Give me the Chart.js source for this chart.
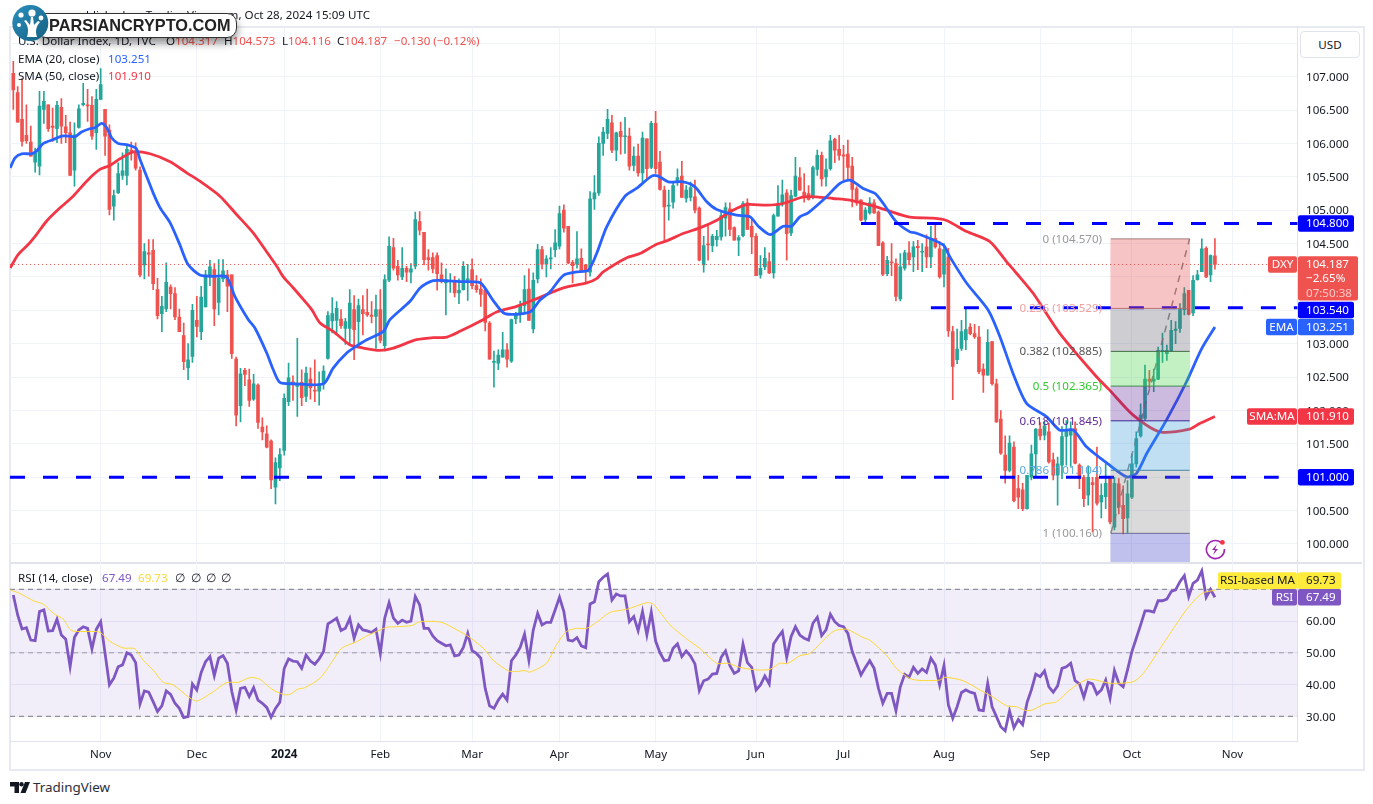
<!DOCTYPE html>
<html lang="en">
<head>
<meta charset="UTF-8">
<title>U.S. Dollar Index</title>
<script src="https://cdn.jsdelivr.net/npm/chart.js@4"></script>
<style>
    body { margin: 0; background: #fff; font-family: "Noto Sans", sans-serif; color: #131722; overflow: hidden; }
    canvas { position: absolute; left: 0; }
    #frame { position: absolute; left: 9px; top: 26px; width: 1352px; height: 741px; border: 2px solid #e8eaf1; }
    #divider { position: absolute; left: 10px; top: 562px; width: 1352px; height: 2px; background: #e0e3eb; }
    .t { position: absolute; font-size: 11.6px; line-height: 14px; white-space: nowrap; z-index: 3; }
    .usd { position: absolute; left: 1300px; top: 31px; width: 58px; height: 25px; border: 1px solid #e0e3eb; border-radius: 4px; font-size: 11.6px; line-height: 25px; padding-left: 0; text-align: center; z-index: 3; background: #fff; }
    #pill { position: absolute; left: 36px; top: 13px; width: 199px; height: 23px; background: #fff; border: 1px solid #333; border-radius: 10px; box-shadow: 0 5px 9px rgba(0,0,0,.45); z-index: 4; }
    #pill span { position: absolute; left: 12px; top: -1px; font: bold 16.3px/25px "Liberation Sans", sans-serif; color: #222; white-space: nowrap; }
    svg { position: absolute; z-index: 5; }
</style>
</head>
<body>
<div id="frame"></div>
<canvas id="priceChart" width="1373" height="563" style="top:0"></canvas>
<div id="divider"></div>
<canvas id="rsiChart" width="1373" height="207" style="top:562px"></canvas>

<span class="t" style="left:370px;top:8px;transform:translateX(-100%);">published on TradingView.com, Oct 28, 2024 15:09 UTC</span>
<span class="t" style="left:18px;top:34px">U.S. Dollar Index, 1D, TVC</span>
<span class="t" style="left:166px;top:34px">O<span style="color:#ef5350">104.317</span></span>
<span class="t" style="left:224px;top:34px">H<span style="color:#ef5350">104.573</span></span>
<span class="t" style="left:282px;top:34px">L<span style="color:#ef5350">104.116</span></span>
<span class="t" style="left:337px;top:34px">C<span style="color:#ef5350">104.187</span></span>
<span class="t" style="left:394px;top:34px;color:#ef5350">−0.130 (−0.12%)</span>
<span class="t" style="left:18px;top:52px">EMA (20, close)</span>
<span class="t" style="left:108px;top:52px;color:#2962ff">103.251</span>
<span class="t" style="left:18px;top:69px">SMA (50, close)</span>
<span class="t" style="left:108px;top:69px;color:#f23645">101.910</span>
<span class="t" style="left:18px;top:571px">RSI (14, close)</span>
<span class="t" style="left:102px;top:571px;color:#7e57c2">67.49</span>
<span class="t" style="left:138px;top:571px;color:#fdd835">69.73</span>
<span class="t" style="left:175px;top:571px">∅</span>
<span class="t" style="left:191px;top:571px">∅</span>
<span class="t" style="left:206px;top:571px">∅</span>
<span class="t" style="left:221px;top:571px">∅</span>
<div class="usd">USD</div>

<div id="pill"><span>PARSIANCRYPTO.COM</span></div>
<svg style="left:8px;top:0" width="46" height="46" viewBox="0 0 46 46">
    <defs><linearGradient id="lg" x1="0" y1="0" x2="1" y2="1"><stop offset="0" stop-color="#2b8fc0"/><stop offset="1" stop-color="#15607f"/></linearGradient></defs>
    <circle cx="22.3" cy="23" r="18" fill="url(#lg)"/>
    <path d="M19 37c2-7 1-12-3-16l2-1 4 5 1-8h2l1 8 4-4 2 1c-4 5-5 9-3 15z" fill="#fff"/>
    <circle cx="13" cy="15" r="2.6" fill="#fff"/><circle cx="24" cy="13" r="3.6" fill="#fff"/><circle cx="33" cy="18" r="2.4" fill="#fff"/><circle cx="11" cy="25" r="2" fill="#fff"/>
</svg>
<svg style="left:1204px;top:538px" width="24" height="22" viewBox="0 0 24 22">
    <path d="M17 4.5A9 9 0 1 0 20.4 11" fill="none" stroke="#9c27b0" stroke-width="1.6"/>
    <path d="M13 6l-5 6h3l-2 5 5-6h-3z" fill="#9c27b0"/>
    <circle cx="18.4" cy="4.4" r="2.4" fill="#f23645"/>
</svg>
<svg style="left:10px;top:782px" width="20" height="11" viewBox="0 0 20 11" fill="#131722">
    <path d="M0 0h9v11H4.5V4.5H0z"/><circle cx="11.5" cy="2.2" r="2.2"/><path d="M15 0h5l-4.5 11H10.5z"/>
</svg>
<span class="t" style="left:33px;top:780px;font-size:13.4px;color:#2a2e39">TradingView</span>

<script>
    // Daily candles, oldest first
    const opens = [
        107.05,106.76,106.36,106.12,106.02,105.72,105.66,106.51,106.58,106.26,
        106.22,106.54,106.25,106.16,105.6,106.24,106.58,106.58,106.57,106.16,
        106.66,106.51,106.2,105.06,105.26,105.52,105.52,105.9,105.88,105.6,
        104.18,104.36,104.4,103.81,103.45,103.52,103.85,103.75,103.4,103.12,
        102.64,102.81,103.35,103.18,103.55,104.0,104.11,103.62,103.97,104.03,
        104.03,102.77,102.07,102.6,102.46,102.17,102.38,101.75,101.65,101.54,
        100.85,101.14,101.4,102.13,102.43,102.36,102.42,102.21,102.47,102.3,
        102.29,102.4,102.78,103.34,103.35,103.37,103.23,103.23,103.51,103.33,
        103.51,103.47,103.43,103.41,103.51,102.97,103.95,104.44,104.16,104.0,
        104.13,104.07,104.16,104.83,104.67,104.29,104.29,104.32,104.03,103.91,
        103.93,103.95,103.76,103.81,103.95,104.11,103.87,103.82,103.8,103.31,
        102.72,102.71,102.8,102.91,102.74,103.37,103.44,103.57,103.82,103.22,
        103.97,104.41,104.19,104.27,104.41,104.46,105.0,104.76,104.22,104.19,
        104.28,104.18,104.07,105.17,105.26,106.0,106.15,106.31,105.9,106.18,
        106.1,106.11,105.67,105.81,105.56,106.07,105.64,106.3,105.72,105.3,
        105.06,105.12,105.42,105.51,105.18,105.19,105.2,105.03,104.18,104.49,
        104.47,104.56,104.6,104.88,105.02,104.74,104.55,104.62,105.11,104.76,
        104.61,104.03,104.15,104.23,104.06,104.91,105.11,105.26,104.66,105.21,
        105.49,105.27,105.25,105.19,105.61,105.82,105.5,105.62,106.06,105.91,
        105.83,105.84,105.66,105.32,105.15,104.86,104.96,105.11,104.97,104.51,
        104.05,104.22,104.2,103.67,104.13,104.36,104.3,104.46,104.37,104.45,
        104.3,104.58,104.42,104.04,104.3,103.18,102.76,102.93,103.06,103.25,
        103.15,103.1,102.62,102.53,103.03,102.4,101.87,101.33,101.1,101.45,
        100.83,100.81,100.53,101.0,101.35,101.72,101.63,101.68,101.26,101.03,
        101.18,101.61,101.63,101.73,101.18,101.0,100.73,100.92,101.0,100.63,
        100.71,101.0,100.25,100.9,100.58,100.39,100.7,101.2,101.62,101.88,
        102.47,102.44,102.47,102.88,102.85,102.89,103.2,103.23,103.51,103.8,
        103.46,103.96,104.08,104.43,104.03,104.317
    ];
    const highs = [
        107.23,106.85,106.97,106.58,106.26,105.93,106.78,106.78,106.58,106.53,
        106.63,106.67,106.42,106.32,106.31,106.58,106.9,106.81,106.7,106.81,
        107.12,106.51,106.28,105.3,105.71,105.86,105.98,106.02,106.01,105.65,
        104.5,104.56,104.56,103.98,103.71,104.21,103.88,103.84,103.52,103.31,
        103.0,103.59,103.71,103.86,104.1,104.25,104.2,104.26,104.26,104.1,
        104.03,102.8,102.63,102.63,102.62,102.54,102.4,101.89,101.77,101.56,
        101.29,101.43,102.25,102.71,102.52,103.08,102.61,102.65,102.64,102.76,
        102.58,102.67,103.48,103.69,103.63,103.51,103.38,103.81,103.72,103.67,
        103.72,103.82,103.63,103.73,103.81,104.03,104.6,104.58,104.25,104.44,
        104.16,104.2,104.97,104.98,104.67,104.41,104.36,104.36,104.21,104.12,
        104.05,104.01,103.97,104.23,104.19,104.27,104.02,103.97,103.85,103.33,
        102.89,102.91,103.17,103.0,103.37,103.47,103.64,104.02,104.12,104.06,
        104.49,104.46,104.32,104.44,104.71,105.06,105.08,104.76,104.25,104.68,
        104.42,104.19,105.28,105.52,106.1,106.24,106.51,106.42,106.17,106.32,
        106.39,106.23,105.95,105.99,106.17,106.07,106.33,106.48,105.88,105.36,
        105.3,105.41,105.62,105.73,105.37,105.42,105.45,105.05,104.61,104.77,
        104.64,104.7,104.97,105.11,105.11,104.75,104.62,105.13,105.17,104.87,
        104.65,104.32,104.44,104.36,104.94,105.37,105.45,105.31,105.3,105.79,
        105.64,105.55,105.37,105.66,105.9,105.87,105.77,106.12,106.08,106.12,
        105.97,106.05,105.79,105.35,105.16,105.04,105.19,105.16,104.99,104.53,
        104.31,104.5,104.27,104.35,104.4,104.53,104.53,104.55,104.5,104.63,
        104.76,104.78,104.53,104.5,104.43,103.26,103.22,103.35,103.53,103.3,
        103.29,103.26,102.7,103.21,103.03,102.47,102.0,101.62,101.62,101.53,
        101.03,100.91,101.03,101.48,101.73,101.82,101.83,101.81,101.36,101.3,
        101.76,101.85,101.83,101.83,101.2,101.03,101.17,101.0,101.45,100.9,
        101.2,101.0,101.0,100.98,100.87,100.95,101.35,101.68,102.1,102.68,
        102.6,102.62,102.95,103.16,102.98,103.35,103.33,103.6,103.84,103.8,
        104.02,104.1,104.57,104.45,104.33,104.573
    ];
    const lows = [
        106.51,106.32,105.96,106.0,105.81,105.57,105.53,106.3,106.18,106.03,
        106.01,106.0,106.01,105.52,105.36,106.23,106.56,106.33,106.06,105.91,
        106.66,105.82,104.93,104.85,105.25,105.46,105.38,105.75,105.6,104.0,
        103.97,104.01,103.81,103.37,103.18,103.48,103.52,103.36,103.18,102.61,
        102.46,102.72,103.1,103.06,103.55,103.87,103.27,103.43,103.93,103.48,
        102.78,101.77,101.83,102.37,102.06,102.15,101.73,101.56,101.44,100.83,
        100.6,100.95,101.33,102.07,102.15,101.91,102.07,102.13,102.17,102.13,
        102.08,102.32,102.77,103.16,103.15,103.23,102.99,102.98,102.76,102.98,
        103.13,103.41,103.31,102.93,103.01,102.89,103.93,104.1,103.95,103.96,
        103.93,103.91,104.12,104.63,104.18,104.1,104.06,103.8,103.91,103.43,
        103.77,103.7,103.6,103.8,103.65,103.82,103.77,103.56,103.19,102.77,
        102.35,102.61,102.8,102.65,102.72,103.3,103.32,103.45,103.35,103.16,
        103.91,104.12,104.0,104.12,104.3,104.42,104.67,104.2,103.91,104.13,
        104.07,103.92,104.01,105.01,105.22,105.82,106.07,105.86,105.74,105.84,
        105.85,105.6,105.59,105.51,105.42,105.47,105.62,105.55,105.3,104.55,
        104.85,105.03,105.37,105.19,105.12,105.14,104.96,104.24,104.07,104.25,
        104.38,104.46,104.55,104.61,104.62,104.55,104.32,104.6,104.71,104.35,
        104.02,103.98,104.11,104.05,103.98,104.91,105.06,104.25,104.62,105.2,
        105.3,105.12,105.15,105.17,105.52,105.36,105.36,105.6,105.71,105.75,
        105.42,105.47,105.05,105.07,104.84,104.79,104.94,104.95,104.47,104.02,
        104.02,104.02,103.64,103.64,104.1,104.18,104.08,104.11,104.08,104.14,
        104.14,104.43,103.98,103.85,103.11,102.16,102.7,102.9,102.91,103.13,
        103.08,102.55,102.27,102.53,102.38,101.82,101.34,100.91,101.08,100.63,
        100.53,100.5,100.52,100.96,101.0,101.56,101.56,101.21,100.96,100.58,
        100.98,101.18,101.16,101.2,100.83,100.56,100.58,100.18,100.58,100.39,
        100.53,100.3,100.21,100.45,100.15,100.16,100.68,101.15,101.6,101.85,
        102.34,102.28,102.46,102.72,102.75,102.88,103.0,103.17,103.43,103.43,
        103.42,103.95,104.08,103.99,103.93,104.116
    ];
    const closes = [
        106.8,106.32,106.03,106.04,105.81,105.85,106.56,106.63,106.22,106.24,
        106.57,106.26,106.16,105.52,106.13,106.52,106.6,106.56,106.11,106.66,
        106.88,106.11,105.01,105.22,105.55,105.59,105.91,105.88,105.63,104.03,
        104.38,104.34,103.9,103.42,103.56,103.92,103.75,103.4,103.18,102.73,
        102.76,103.5,103.26,103.7,104.03,104.15,103.52,103.98,104.09,103.86,
        102.85,101.93,102.55,102.54,102.15,102.4,101.82,101.68,101.45,100.96,
        101.22,101.34,102.18,102.49,102.4,102.39,102.19,102.56,102.34,102.29,
        102.4,102.59,103.42,103.45,103.53,103.27,103.33,103.61,103.21,103.57,
        103.45,103.43,103.41,103.51,103.05,103.96,104.46,104.13,104.03,104.13,
        104.07,104.12,104.86,104.7,104.26,104.26,104.12,104.05,103.93,103.96,
        103.95,103.76,103.8,104.16,103.97,103.87,103.81,103.74,103.32,102.77,
        102.73,102.83,102.91,102.77,103.36,103.44,103.57,103.81,103.35,103.95,
        104.41,104.19,104.27,104.28,104.51,104.95,104.73,104.21,104.17,104.27,
        104.08,104.08,105.17,105.26,106.0,106.17,106.36,105.9,106.16,106.1,
        106.11,105.66,105.81,105.56,106.08,105.62,106.3,105.62,105.31,105.05,
        105.07,105.37,105.49,105.19,105.3,105.34,105.0,104.25,104.47,104.48,
        104.61,104.61,104.92,105.04,104.71,104.55,104.59,105.1,104.71,104.6,
        104.02,104.13,104.28,104.06,104.92,105.1,105.23,104.65,105.22,105.51,
        105.3,105.21,105.16,105.64,105.82,105.47,105.61,106.04,105.9,105.82,
        105.81,105.64,105.31,105.11,104.85,105.0,105.11,104.96,104.47,104.04,
        104.25,104.21,103.71,104.15,104.36,104.26,104.45,104.44,104.38,104.3,
        104.58,104.45,104.0,104.41,103.19,102.66,102.92,103.18,103.21,103.15,
        103.1,102.58,102.53,103.02,102.4,101.83,101.36,101.1,101.51,100.65,
        100.7,100.53,101.03,101.35,101.72,101.62,101.77,101.23,101.03,101.2,
        101.61,101.7,101.72,101.21,100.98,100.68,101.0,100.89,100.61,100.73,
        100.91,100.33,100.91,100.55,100.38,100.75,101.2,101.58,101.93,102.47,
        102.44,102.47,102.9,102.9,102.9,103.2,103.22,103.52,103.75,103.44,
        103.95,104.03,104.42,104.0,104.32,104.187
    ];

    // Moving averages, read at the bends of each curve (day number, value)
    const emaDays = [-0.7,0.4,1.9,4.2,5.3,6.9,9.2,11.1,12.6,14.1,15.6,17.5,18.7,20.2,21.4,22.5,24,26.3,28.1,29,30.5,32,33.6,35.9,38.1,40,42.7,45.8,48.8,50.7,53.8,55.3,58,59.5,61,64.1,71,73.2,76.3,78.2,80.9,84.7,86.2,90.8,93.1,96.1,102.2,106.8,108.3,109.8,112.5,118.2,120.5,122.8,125.9,128.9,131.6,133.5,135.8,140,142.6,146.1,147.6,149.9,153.3,156,158.7,161,165.5,168.6,170.5,173.2,176.2,178.1,180,181.9,185.7,189.2,191.5,194.5,197.2,199.1,202.1,205.2,206.7,212.8,214.3,218.2,223.1,225.8,228.8,231.9,236.5,239.5,242.6,245.6,250.9,254.8,257,259.4,263.9,268.5,272,275];
    const emaVals = [105.635,105.785,105.845,105.845,105.885,106.0,106.06,106.11,106.11,106.1,106.17,106.22,106.235,106.3,106.235,106.085,106.0,105.975,105.925,105.76,105.51,105.26,105.035,104.81,104.485,104.185,104.03,104.01,104.0,103.71,103.36,103.235,102.86,102.61,102.42,102.4,102.4,102.635,102.86,102.95,103.06,103.185,103.36,103.635,103.835,103.945,103.93,103.915,103.8,103.65,103.45,103.475,103.65,103.775,104.025,104.075,104.1,104.35,104.75,105.21,105.325,105.51,105.51,105.425,105.425,105.35,105.125,105.01,104.925,104.9,104.76,104.635,104.76,104.76,104.9,104.96,105.175,105.4,105.45,105.325,105.25,105.1,104.825,104.675,104.655,104.48,104.305,103.905,103.505,103.105,102.555,102.105,101.905,101.705,101.705,101.455,101.18,101.005,101.055,101.355,101.855,102.43,102.93,103.251];
    const smaDays = [-0.7,1.1,3.4,5.3,7.6,10.7,13.7,16.8,19.8,22.1,24.4,27.5,31.3,35.9,39.7,42.7,47.3,51.1,54.9,57.9,60.3,61.8,64.1,66.4,68.3,70.2,73.2,77,80.1,83.9,87,92.3,96.1,99.2,102.2,107.5,110.6,115.2,119.8,125.9,131.2,133.5,135,140.3,143.4,147.2,149.5,153.3,157.1,161,164.7,167.8,172.4,176.2,180.8,183.8,187.6,191.5,196.1,199.9,205.2,210.5,213.6,218.2,223.5,227.3,229.6,233.4,239.5,247.9,250.9,256.3,262.4,269.2,271.5,275];
    const smaVals = [104.135,104.335,104.485,104.635,104.835,105.035,105.21,105.435,105.61,105.67,105.77,105.875,105.845,105.725,105.56,105.435,105.21,104.935,104.66,104.385,104.16,104.0,103.835,103.66,103.51,103.31,103.185,102.985,102.935,102.9,102.935,103.06,103.09,103.1,103.185,103.36,103.475,103.56,103.675,103.835,103.91,103.975,104.075,104.285,104.35,104.49,104.54,104.65,104.735,104.85,105.0,105.085,105.075,105.1,105.2,105.2,105.175,105.15,105.075,105.0,104.895,104.88,104.845,104.68,104.53,104.23,104.055,103.755,103.155,102.505,102.305,101.93,101.68,101.72,101.805,101.91];

    // RSI, one value per candle
    const rsiVals = [
        68.2,61.9,57.5,57.9,54.0,53.8,63.0,63.5,56.9,57.0,
        60.6,55.6,54.3,45.6,54.9,57.2,58.2,57.7,51.2,57.4,
        59.8,49.8,39.9,42.0,45.6,46.2,50.0,49.3,46.9,33.9,
        38.0,37.6,34.6,31.5,33.3,38.0,36.9,34.1,32.5,29.6,
        29.9,40.2,38.3,43.8,47.2,48.8,42.8,48.3,49.1,46.7,
        37.8,32.0,38.8,39.1,36.2,39.0,35.1,34.1,32.8,29.7,
        32.5,34.4,45.1,48.1,47.4,47.2,45.1,49.3,47.4,46.4,
        48.1,50.4,59.1,60.0,60.9,57.0,57.7,60.8,54.6,58.8,
        57.2,56.9,56.4,57.4,49.8,60.9,65.8,60.9,59.3,60.3,
        59.6,60.0,67.7,65.1,57.7,57.7,55.3,53.8,53.0,52.2,
        52.5,49.0,49.3,51.7,56.1,50.7,49.8,48.3,38.8,33.3,
        32.5,35.1,37.0,35.1,47.5,49.3,51.7,55.9,47.7,57.2,
        62.4,58.8,59.6,59.6,63.5,67.5,63.0,54.0,53.7,54.8,
        52.2,51.6,65.4,66.1,72.4,73.8,74.8,66.6,68.5,67.9,
        67.9,59.8,61.4,57.0,63.0,55.6,62.8,53.7,50.0,47.5,
        47.7,51.4,52.8,48.8,50.6,49.0,46.5,38.1,41.2,41.7,
        43.3,43.5,48.6,50.6,45.9,43.5,44.3,52.7,46.9,45.4,
        38.3,39.9,42.7,40.2,52.8,54.9,56.7,48.6,55.1,58.2,
        55.6,54.6,54.0,59.3,61.2,55.4,57.2,62.1,59.8,58.6,
        58.2,56.1,50.4,46.7,43.0,45.4,47.5,45.1,38.8,34.1,
        37.2,37.2,31.8,39.3,43.2,42.3,45.4,43.5,44.9,43.8,
        48.3,46.2,39.9,46.0,33.6,29.4,33.0,37.5,38.3,37.6,
        37.2,32.0,31.8,40.4,33.0,29.9,26.7,25.4,31.7,26.4,
        29.0,27.4,34.3,38.3,43.3,42.5,44.3,39.3,37.6,39.6,
        45.1,45.6,46.7,41.2,40.2,36.0,40.7,40.2,37.0,38.3,
        41.4,35.7,44.4,40.4,39.3,44.6,50.4,54.6,58.8,63.2,
        63.2,62.8,66.4,66.4,66.9,69.3,69.8,72.4,74.3,67.7,
        71.9,72.9,75.8,67.5,70.0,67.49
    ];
    const rsiMaDays = [-0.7,1.5,4.6,6.9,9.2,11.4,13.3,16,19.8,22.1,25.2,27.8,29.7,32,34.3,36.6,40,42,45.8,48.8,51.5,54.2,56.4,59.1,61.8,63.3,65.2,66.7,70.2,73.2,75.1,78.6,80.9,85.4,87.7,91.2,93.1,98,102.2,103.7,107.6,109.8,113.3,115.2,117.1,118.2,122,124.3,126.6,128.9,131.2,133.5,136.5,140.4,145,146.5,150.3,154.1,157.1,161,163.6,166.3,170.1,173.2,175.4,177.3,180,182.3,187.6,190.7,194.5,196,199.8,202.1,205.2,207.5,212,213.2,217.4,221.2,224.3,227.3,229.6,231.5,233,236.1,238.8,241.8,246,251,256.3,258.6,263.2,268.5,272,275];
    const rsiMaVals = [69.8,68.7,66.4,65.3,62.4,60.6,57.0,56.7,56.5,53.6,51.5,51.3,47.7,44.6,40.7,39.9,36.2,34.8,37.8,40.6,40.7,42.2,41.7,38.6,36.9,36.9,38.6,39.0,42.0,47.7,51.4,53.5,55.3,58.0,58.2,58.6,59.8,59.6,56.7,55.6,51.4,47.7,44.3,44.1,44.4,43.9,46.7,52.5,56.7,57.7,57.7,59.6,62.7,63.7,65.8,65.3,58.8,54.4,51.4,46.7,46.7,45.4,44.6,44.8,46.7,46.7,49.1,49.8,56.7,57.4,54.8,54.0,49.3,45.1,41.9,41.3,41.4,42.3,41.2,38.3,36.0,33.3,33.0,31.9,31.9,33.9,34.6,38.3,41.7,40.4,40.9,43.5,52.9,63.6,68.7,69.73];

    // Month labels and the candle they fall on
    const monthDays = [20,42,62,84,105,125,147,170,190,213,235,256,279];
    const monthLabels = ['Nov','Dec','2024','Feb','Mar','Apr','May','Jun','Jul','Aug','Sep','Oct','Nov'];

    // Drawn levels
    const fibRatios = ['0','0.236','0.382','0.5','0.618','0.786','1'];
    const fibPrices = [104.57,103.529,102.885,102.365,101.845,101.104,100.16];
    const fibBelow = 99.12;
    const fibDays = [251.2,269.2];
    const supportLevels = [104.8,103.54,101.0];
    const supportStarts = [194,210,-0.76];
    const supportEnds = [294,294,289.6];

    const lastClose = 104.187;
    const xMin = -0.755, xMax = 293.9;
    const UP = '#26a69a', DOWN = '#ef5350';
    const FONT = '"Noto Sans", sans-serif';
    const fibFills = ['rgba(225,60,60,.3)','rgba(90,90,105,.3)','rgba(60,210,60,.3)','rgba(90,30,150,.3)','rgba(50,150,215,.3)','rgba(120,120,120,.27)','rgba(50,50,200,.3)'];
    const fibLines = ['#999','rgba(230,130,130,.9)','#444','#4caf50','#4a1c8c','#3f8fb0','#888'];
    const fibText = ['#9a9a9a','#f0a0a0','#555','#2ecc2e','#5e2b97','#5aa9e0','#9a9a9a'];

    const candleColors = opens.map((o, i) => closes[i] >= o ? UP : DOWN);

    function line(days, vals, extra) {
        return Object.assign({
            type: 'line', pointRadius: 0, borderWidth: 1, fill: false,
            data: days.map((d, i) => ({x: d, y: vals[i]}))
        }, extra);
    }

    function tag(ctx, x0, x1, y0, y1, bg, text, fg, textX) {
        ctx.fillStyle = bg;
        ctx.beginPath();
        ctx.roundRect(x0, y0, x1 - x0, y1 - y0, 2);
        ctx.fill();
        ctx.fillStyle = fg;
        ctx.font = '11.6px ' + FONT;
        ctx.textBaseline = 'middle';
        ctx.textAlign = textX ? 'left' : 'center';
        ctx.fillText(text, textX || (x0 + x1) / 2, (y0 + y1) / 2 + 0.5);
    }

    const priceOverlay = {
        id: 'priceOverlay',
        afterDraw(chart) {
            const ctx = chart.ctx, y = chart.scales.y;
            ctx.save();
            // fib labels
            ctx.font = '11.6px ' + FONT;
            ctx.textAlign = 'right';
            ctx.textBaseline = 'middle';
            fibRatios.forEach((r, i) => {
                ctx.fillStyle = fibText[i];
                ctx.fillText(r + ' (' + fibPrices[i].toFixed(3) + ')', 1102, y.getPixelForValue(fibPrices[i]) + 0.5);
            });
            // axis tags
            const c = v => y.getPixelForValue(v);
            const ax = 1298, vx = 1306;
            tag(ctx, ax, 1354, c(104.8) - 8.3, c(104.8) + 8.3, '#0000ff', '104.800', '#fff', vx);
            tag(ctx, 1268, ax - 1, c(lastClose) - 8.3, c(lastClose) + 8.3, DOWN, 'DXY', '#fff');
            ctx.fillStyle = DOWN;
            ctx.beginPath();
            ctx.roundRect(ax, c(lastClose) - 8.3, 60, 44.3, 2);
            ctx.fill();
            ctx.fillStyle = '#fff';
            ctx.font = '11.6px ' + FONT;
            ctx.textAlign = 'left';
            ctx.fillText('104.187', vx, c(lastClose) + 0.5);
            ctx.fillText('−2.65%', vx, c(lastClose) + 14.5);
            ctx.fillStyle = '#ffc9c7';
            ctx.fillText('07:50:38', vx, c(lastClose) + 29);
            tag(ctx, ax, 1354, c(103.54) - 6, c(103.54) + 10.5, '#0000ff', '103.540', '#fff', vx);
            tag(ctx, 1266, ax - 1, c(103.251) - 8.3, c(103.251) + 8.3, '#2962ff', 'EMA', '#fff');
            tag(ctx, ax, 1354, c(103.251) - 8.3, c(103.251) + 8.3, '#2962ff', '103.251', '#fff', vx);
            tag(ctx, 1247, ax - 1, c(101.91) - 8.3, c(101.91) + 8.3, '#f23645', 'SMA:MA', '#fff');
            tag(ctx, ax, 1354, c(101.91) - 8.3, c(101.91) + 8.3, '#f23645', '101.910', '#fff', vx);
            tag(ctx, ax, 1354, c(101) - 8.3, c(101) + 8.3, '#0000ff', '101.000', '#fff', vx);
            ctx.restore();
        }
    };

    const rsiOverlay = {
        id: 'rsiOverlay',
        afterDraw(chart) {
            const ctx = chart.ctx, y = chart.scales.y;
            ctx.save();
            const ma = y.getPixelForValue(69.73), r = y.getPixelForValue(67.49);
            const ax = 1298, vx = 1306;
            tag(ctx, 1218, ax - 1, ma - 18, ma - 1, '#ffeb3b', 'RSI-based MA', '#131722');
            tag(ctx, ax, 1341, ma - 18, ma - 1, '#ffeb3b', '69.73', '#131722', vx);
            tag(ctx, 1272, ax - 1, r - 8.3, r + 8.3, '#7e57c2', 'RSI', '#fff');
            tag(ctx, ax, 1341, r - 8.3, r + 8.3, '#7e57c2', '67.49', '#fff', vx);
            ctx.restore();
        }
    };

    const xGrid = {color: '#f0f3fa', drawTicks: false};
    function setMonthTicks(scale) {
        scale.ticks = monthDays.map(d => ({value: d}));
    }
    // keep the plot area where the pane is: no label margins from the axes
    function fitY(scale) {
        scale.width = 65.5;
        scale.paddingTop = 0;
        scale.paddingBottom = 0;
    }
    function fitX(height) {
        return scale => {
            scale.height = height;
            scale.paddingLeft = 0;
            scale.paddingRight = 0;
        };
    }

    // Price pane
    const fibBandData = fibPrices.map((p, i) => ({
        x: (fibDays[0] + fibDays[1]) / 2,
        y: [i < fibPrices.length - 1 ? fibPrices[i + 1] : fibBelow, p]
    }));
    const priceDatasets = [
        {type: 'bar', grouped: false, order: 6, barThickness: 1, minBarLength: 1,
            backgroundColor: candleColors,
            data: highs.map((h, i) => ({x: i, y: [lows[i], h]}))},
        {type: 'bar', grouped: false, order: 5, barThickness: 3, minBarLength: 1,
            backgroundColor: candleColors,
            data: closes.map((c, i) => ({x: i, y: [opens[i], c]}))},
        line(emaDays, emaVals, {order: 3, borderColor: '#2962ff', borderWidth: 2.8, tension: 0.25}),
        line(smaDays, smaVals, {order: 3, borderColor: '#f23645', borderWidth: 2.8, tension: 0.25}),
        line([xMin, xMax], [lastClose, lastClose], {order: 4, borderColor: '#ef5350', borderDash: [1, 3]}),
        {type: 'bar', grouped: false, order: 1, barThickness: 79,
            backgroundColor: fibFills, data: fibBandData},
        line(fibDays, [fibPrices[6], fibPrices[0]], {order: 1, borderColor: 'rgba(120,120,120,.85)', borderWidth: 1.5, borderDash: [7, 6]})
    ];
    supportLevels.forEach((lv, i) => {
        priceDatasets.push(line([supportStarts[i], supportEnds[i]], [lv, lv], {order: 2, borderColor: '#0000ff', borderWidth: 3, borderDash: [15, 18]}));
    });
    fibPrices.forEach((p, i) => {
        priceDatasets.push(line(fibDays, [p, p], {order: 1, borderColor: fibLines[i], borderWidth: 1}));
    });

    new Chart(document.getElementById('priceChart').getContext('2d'), {
        type: 'bar',
        data: {datasets: priceDatasets},
        plugins: [priceOverlay],
        options: {
            responsive: false, animation: false, devicePixelRatio: 1,
            layout: {padding: {left: 10, right: 10, top: 27, bottom: 1}},
            plugins: {legend: {display: false}, tooltip: {enabled: false}},
            scales: {
                x: {
                    type: 'linear', min: xMin, max: xMax, offset: false,
                    grid: Object.assign({offset: false}, xGrid),
                    border: {display: false},
                    afterBuildTicks: setMonthTicks,
                    afterFit: fitX(0),
                    ticks: {display: false}
                },
                y: {
                    position: 'right', min: 99.73, max: 107.744,
                    afterFit: fitY,
                    grid: {color: '#f0f3fa', drawTicks: false},
                    border: {display: true, color: '#e0e3eb'},
                    ticks: {
                        stepSize: 0.5, includeBounds: false, padding: 8.5, autoSkip: false, labelOffset: 1,
                        color: '#131722', font: {family: FONT, size: 11.6},
                        callback: v => v.toFixed(3)
                    }
                }
            }
        }
    });

    // RSI pane
    new Chart(document.getElementById('rsiChart').getContext('2d'), {
        type: 'line',
        data: {datasets: [
            line([xMin, xMax], [70, 70], {order: 8, borderWidth: 0, backgroundColor: 'rgba(126,87,194,.1)', fill: {value: 30}}),
            line([xMin, xMax], [70, 70], {order: 7, borderColor: '#787b86', borderDash: [5, 4]}),
            line([xMin, xMax], [50, 50], {order: 7, borderColor: 'rgba(120,123,134,.7)', borderDash: [5, 4]}),
            line([xMin, xMax], [30, 30], {order: 7, borderColor: '#787b86', borderDash: [5, 4]}),
            line(rsiVals.map((v, i) => i), rsiVals, {order: 2, borderColor: '#7e57c2', borderWidth: 2.8}),
            line(rsiMaDays, rsiMaVals, {order: 1, borderColor: '#fdd835', borderWidth: 1, tension: 0.25})
        ]},
        plugins: [rsiOverlay],
        options: {
            responsive: false, animation: false, devicePixelRatio: 1,
            layout: {padding: {left: 10, right: 10, top: 0.5, bottom: 0}},
            plugins: {legend: {display: false}, tooltip: {enabled: false}},
            scales: {
                x: {
                    type: 'linear', min: xMin, max: xMax,
                    grid: xGrid,
                    border: {display: true, color: '#e0e3eb'},
                    afterBuildTicks: setMonthTicks,
                    afterFit: fitX(27.3),
                    ticks: {
                        autoSkip: false, maxRotation: 0, padding: 6, color: '#131722',
                        font: c => ({family: FONT, size: 11.6, weight: c.tick && c.tick.value === 62 ? 'bold' : 'normal'}),
                        callback: v => monthLabels[monthDays.indexOf(v)]
                    }
                },
                y: {
                    position: 'right', min: 22, max: 78.44,
                    afterFit: fitY,
                    grid: {color: '#eeeef6', drawTicks: false},
                    border: {display: true, color: '#e0e3eb'},
                    ticks: {
                        stepSize: 10, includeBounds: false, padding: 8.5, autoSkip: false, labelOffset: 1,
                        color: '#131722', font: {family: FONT, size: 11.6},
                        callback: v => v.toFixed(2)
                    }
                }
            }
        }
    });
</script>
</body>
</html>
